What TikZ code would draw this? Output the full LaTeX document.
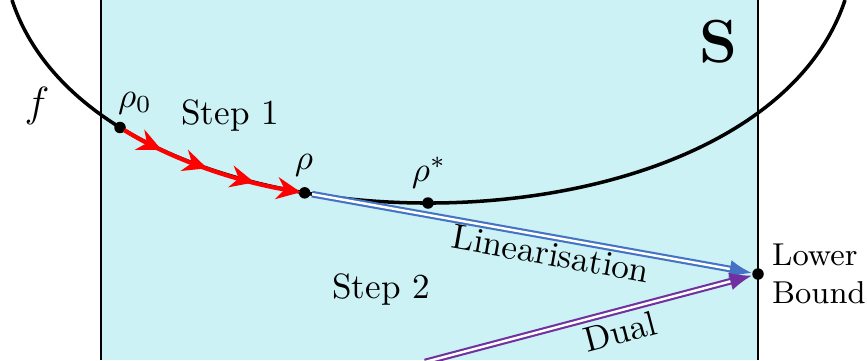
\documentclass[tikz,border=0pt]{standalone}
\usepackage{amsmath, amssymb}
\usepackage{tikz}
\usetikzlibrary{arrows.meta, positioning, decorations.markings}
\definecolor{regionS}{HTML}{CCF2F5}
\definecolor{linblau}{HTML}{4472C4}
\definecolor{duallila}{HTML}{7030A0}

\tikzset{
  punkt/.style={circle, fill=black, inner sep=0pt, minimum size=1.15mm},
  kurve/.style={line width=1pt, black},
  schritt/.style={line width=1.2pt, red, postaction={decorate},
    decoration={markings,
      mark=at position 0.24 with {\arrow{Stealth[length=2.4mm,width=2.2mm]}},
      mark=at position 0.49 with {\arrow{Stealth[length=2.4mm,width=2.2mm]}},
      mark=at position 0.74 with {\arrow{Stealth[length=2.4mm,width=2.2mm]}}}},
  doppel/.style={line width=0.6pt, double=white, double distance=0.7pt}
}

\begin{document}
\begin{tikzpicture}
  \useasboundingbox (0,0) rectangle (8.67,3.6);
  \clip (0,0) rectangle (8.67,3.6);

  % Region S
  \fill[regionS] (1.01,0) rectangle (7.58,3.6);
  \draw[line width=0.7pt] (1.01,0) -- (1.01,3.7);
  \draw[line width=0.7pt] (7.58,0) -- (7.58,3.7);

  % Funktion f mit Punkten
  \coordinate (fstart) at (0.12,3.6);
  \coordinate (fend) at (8.45,3.6);
  \draw[kurve] (fstart) .. controls (1.006,0.893) and (7.55,0.893) .. (fend)
    node[punkt, pos=0.195] (rhoz) {}
    node[punkt, pos=0.388] (rho) {}
    node[punkt, pos=0.5] (rhostar) {};
  \node[punkt] (lb) at (7.58,0.86) {};
  \coordinate (dualstart) at (4.25,-0.02);

  % Step 1
  \draw[schritt, shorten <=0.5mm, shorten >=0.4mm, -{Stealth[length=2.4mm,width=2.2mm]}]
    (rhoz.center) .. controls (1.714,2.006) and (2.356,1.788) .. (rho.center);

  % Step 2
  \draw[doppel, linblau, -{Latex[length=2.2mm,width=1.8mm]}] (rho) -- (lb)
    node[sloped, below, pos=0.55, inner sep=1pt, text=black] (lin) {Linearisation};
  \draw[doppel, duallila, -{Latex[length=2.2mm,width=1.8mm]}] (dualstart) -- (lb)
    node[sloped, below, pos=0.58, inner sep=2pt, text=black] (dual) {Dual};

  % Beschriftung
  \node (f) at (0.37,2.54) {\large $f$};
  \node (lrhoz) at (1.35,2.57) {$\rho_0$};
  \node (step1) at (2.30,2.44) {Step 1};
  \node (lrho) at (3.04,1.95) {$\rho$};
  \node (lrhostar) at (4.29,1.87) {$\rho^*$};
  \node (step2) at (3.81,0.70) {Step 2};
  \node (S) at (7.18,3.18) {\LARGE $\mathbf{S}$};
  \node[right=0pt of lb, align=left, inner sep=2pt, font=\small] (lbtext) {Lower\\Bound};
\end{tikzpicture}
\end{document}
